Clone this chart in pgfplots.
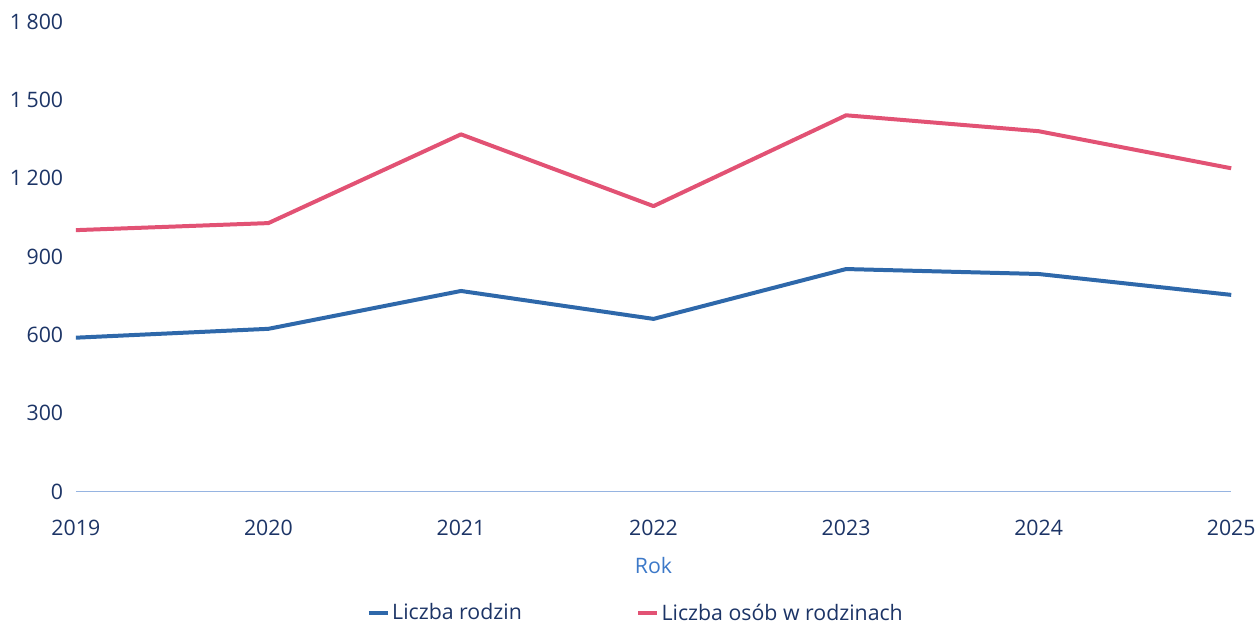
\documentclass[border=0pt]{standalone}
\usepackage{fontspec}
\setmainfont{Open Sans}
\usepackage{pgfplots}
\pgfplotsset{compat=1.18}
\definecolor{rodzBlue}{RGB}{46,104,170}
\definecolor{osobPink}{RGB}{226,82,116}
\definecolor{tickNavy}{RGB}{28,52,102}
\definecolor{rokBlue}{RGB}{60,120,200}
\definecolor{baseBlue}{RGB}{150,180,225}

\begin{document}
\begin{tikzpicture}
\begin{axis}[
  scale only axis,
  width=868pt,
  height=353pt,
  xmin=2019, xmax=2025,
  ymin=0, ymax=1800,
  xtick={2019,2020,2021,2022,2023,2024,2025},
  ytick={0,300,600,900,1200,1500,1800},
  axis line style={draw=none},
  tick style={draw=none},
  /pgf/number format/assume math mode=true,
  xticklabel style={/pgf/number format/1000 sep={}, font=\fontsize{16}{18}\selectfont, text=tickNavy, yshift=-18pt},
  yticklabel style={/pgf/number format/1000 sep={\hspace{0.22em}}, font=\fontsize{16}{18}\selectfont, text=tickNavy, xshift=-6pt},
  xlabel={Rok},
  xlabel style={font=\fontsize{16}{18}\selectfont, text=rokBlue, yshift=-9pt},
  clip=false,
  legend columns=2,
  legend style={draw=none, at={(0.485,-0.227)}, anchor=north, font=\fontsize{16}{18}\selectfont, text=tickNavy,
    /tikz/every even column/.append style={column sep=84pt}},
  legend image code/.code={\draw[line width=3pt] (0pt,0pt) -- (14pt,0pt);},
]
\draw[baseBlue, line width=0.5pt] (axis cs:2019,0) -- (axis cs:2025,0);
\addplot[rodzBlue, line width=3pt, line join=round] coordinates {
  (2019,589) (2020,623) (2021,768) (2022,661) (2023,852) (2024,833) (2025,753)
};
\addlegendentry{Liczba rodzin}
\addplot[osobPink, line width=3pt, line join=round] coordinates {
  (2019,1001) (2020,1028) (2021,1368) (2022,1093) (2023,1441) (2024,1380) (2025,1238)
};
\addlegendentry{Liczba osób w rodzinach}
\end{axis}
\path ([xshift=-4pt,yshift=7pt]current bounding box.north west);
\end{tikzpicture}
\end{document}
